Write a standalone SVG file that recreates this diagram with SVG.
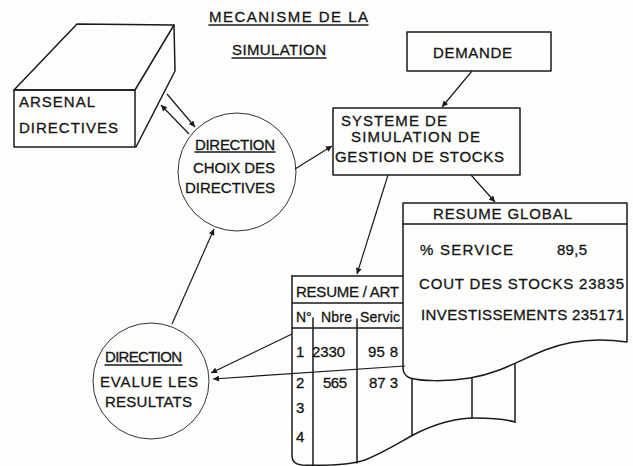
<svg xmlns="http://www.w3.org/2000/svg" width="633" height="466" viewBox="0 0 633 466">
<defs>
<marker id="ah" viewBox="0 0 10 10" refX="10" refY="5" markerWidth="8" markerHeight="6" markerUnits="userSpaceOnUse" orient="auto">
<path d="M0,0 L10,5 L0,10 Z" fill="#1a1a1a"/>
</marker>
<style>
.s{fill:none;stroke:#1a1a1a;stroke-width:1.5;stroke-linejoin:round;stroke-linecap:round}
.w{fill:#fdfdfc;stroke:#1a1a1a;stroke-width:1.5;stroke-linejoin:round}
.c{fill:#fdfdfc;stroke:#333;stroke-width:1}
.t{font-family:"Liberation Sans","DejaVu Sans",sans-serif;font-size:14px;fill:#151515;stroke:#151515;stroke-width:0.3}
.b{font-size:15px}
.a{fill:none;stroke:#1a1a1a;stroke-width:1.2;marker-end:url(#ah)}
</style>
</defs>
<rect width="633" height="466" fill="#fdfdfc"/>

<g id="title">
<text class="t b" x="209" y="22" textLength="159" lengthAdjust="spacing">MECANISME DE LA</text>
<line class="s" x1="209" y1="25" x2="368" y2="25"/>
<text class="t b" x="232" y="55" textLength="94" lengthAdjust="spacing">SIMULATION</text>
<line class="s" x1="232" y1="58" x2="326" y2="58"/>
</g>

<g id="arsenal">
<path class="s" d="M14,90 L77,24 L174,25 L135,90 Z"/>
<rect class="s" x="14" y="90" width="121" height="57"/>
<path class="s" d="M174,25 L175,71 L136,147"/>
<text class="t b" x="19" y="107" textLength="76" lengthAdjust="spacing">ARSENAL</text>
<text class="t b" x="19" y="133" textLength="99" lengthAdjust="spacing">DIRECTIVES</text>
</g>

<g id="demande">
<rect class="s" x="407" y="32" width="144" height="39"/>
<text class="t b" x="433" y="58" textLength="79" lengthAdjust="spacing">DEMANDE</text>
</g>

<g id="systeme">
<rect class="s" x="333" y="108" width="187" height="67"/>
<text class="t b" x="341" y="126" textLength="106" lengthAdjust="spacing">SYSTEME DE</text>
<text class="t b" x="351" y="142" textLength="129" lengthAdjust="spacing">SIMULATION DE</text>
<text class="t b" x="335" y="162" textLength="169" lengthAdjust="spacing">GESTION DE STOCKS</text>
</g>

<g id="choix">
<circle class="c" cx="237" cy="172" r="59"/>
<text class="t b" x="195" y="150" textLength="80" lengthAdjust="spacing">DIRECTION</text>
<line class="s" x1="195" y1="152" x2="275" y2="152"/>
<text class="t b" x="193" y="173" textLength="82" lengthAdjust="spacing">CHOIX DES</text>
<text class="t b" x="185" y="193" textLength="90" lengthAdjust="spacing">DIRECTIVES</text>
</g>

<g id="evalue">
<circle class="c" cx="151" cy="381" r="58"/>
<text class="t b" x="105" y="362" textLength="77" lengthAdjust="spacing">DIRECTION</text>
<line class="s" x1="105" y1="365" x2="182" y2="365"/>
<text class="t b" x="100" y="387" textLength="98" lengthAdjust="spacing">EVALUE LES</text>
<text class="t b" x="105" y="407" textLength="87" lengthAdjust="spacing">RESULTATS</text>
</g>

<g id="resume-art">
<path class="s" d="M292,276 H404 M292,303 H404 M292,328 H404"/>
<path class="s" d="M292,276 V456 Q292,464 302,465 C330,466 350,465 365,460 C385,452 400,442 415,434 C435,424 455,418 475,418 C495,418 508,420 515,422"/>
<path class="s" d="M313,318 V465 M357,319 V463 M412,378 V435 M472,376 V418 M515,356 V422"/>
<text class="t b" x="296" y="297" textLength="103" lengthAdjust="spacing">RESUME / ART</text>
<text class="t" x="296" y="322">N°</text>
<text class="t" x="321" y="322" textLength="31" lengthAdjust="spacing">Nbre</text>
<text class="t" x="360" y="322" textLength="40" lengthAdjust="spacing">Servic</text>
<text class="t b" x="296" y="357">1</text>
<text class="t b" x="312" y="357" textLength="33" lengthAdjust="spacing">2330</text>
<text class="t b" x="368" y="357" textLength="30" lengthAdjust="spacing">95 8</text>
<text class="t b" x="296" y="388">2</text>
<text class="t b" x="323" y="388" textLength="24" lengthAdjust="spacing">565</text>
<text class="t b" x="369" y="388" textLength="29" lengthAdjust="spacing">87 3</text>
<text class="t b" x="296" y="413">3</text>
<text class="t b" x="296" y="442">4</text>
</g>

<g id="resume-global">
<path class="w" d="M403,203 H627 V342 C600,338 570,340 545,350 C520,360 500,373 470,378 C445,382 420,381 410,378 Q403,375 403,368 Z"/>
<line class="s" x1="403" y1="224" x2="627" y2="224"/>
<text class="t b" x="433" y="219" textLength="139" lengthAdjust="spacing">RESUME GLOBAL</text>
<text class="t b" x="420" y="255" textLength="93" lengthAdjust="spacing">% SERVICE</text>
<text class="t b" x="557" y="255" textLength="30" lengthAdjust="spacing">89,5</text>
<text class="t b" x="419" y="289" textLength="205" lengthAdjust="spacing">COUT DES STOCKS 23835</text>
<text class="t b" x="421" y="320" textLength="203" lengthAdjust="spacing">INVESTISSEMENTS 235171</text>
</g>

<g id="connectors">
<line class="a" x1="472" y1="71" x2="442" y2="107"/>
<line class="a" x1="295" y1="169" x2="332" y2="146"/>
<line class="a" x1="167" y1="94" x2="195" y2="127"/>
<line class="a" x1="189" y1="134" x2="161" y2="105"/>
<line class="a" x1="172" y1="324" x2="214" y2="229"/>
<line class="a" x1="388" y1="175" x2="357" y2="274"/>
<line class="a" x1="471" y1="175" x2="495" y2="202"/>
<line class="a" x1="292" y1="334" x2="211" y2="373"/>
<line class="a" x1="405" y1="366" x2="213" y2="379"/>
</g>
</svg>
